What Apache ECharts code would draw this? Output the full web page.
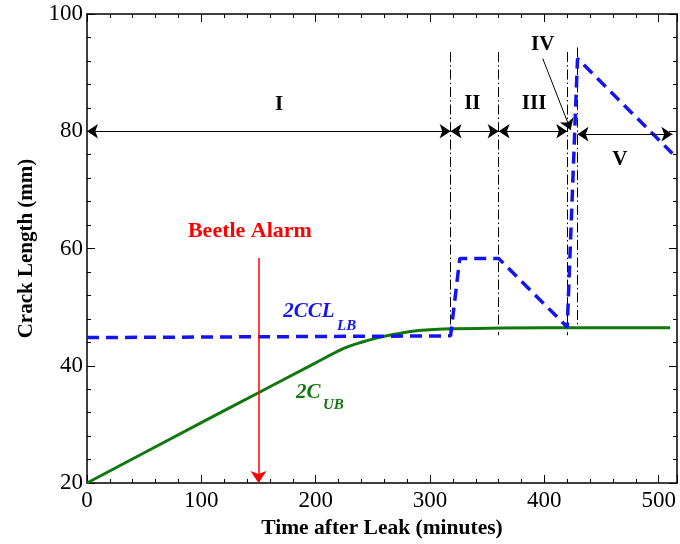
<!DOCTYPE html>
<html><head><meta charset="utf-8">
<script src="https://cdn.jsdelivr.net/npm/echarts@6/dist/echarts.min.js"></script>
<style>html,body{margin:0;padding:0;background:#fff}#c{width:680px;height:544px}</style>
</head><body><div id="c"></div>
<script>
// Data
const ubTime  = [0, 100, 150, 200, 225, 240, 255, 270, 290, 320, 400, 510];
const ubCrack = [20, 30.3, 35.4, 40.5, 43, 44, 44.8, 45.4, 46, 46.3, 46.5, 46.5];
const lbTime  = [0, 318, 326, 360, 420, 429, 512];
const lbCrack = [44.8, 45.1, 58.3, 58.3, 46.6, 92.4, 76.2];
const phaseBounds = [318, 360, 420, 429];
const phaseTop = [93.5, 93.5, 93.5, 94.3];
const phaseBottom = [46.3, 45.2, 45.2, 46.5];
const phaseNames = ['I', 'II', 'III', 'IV', 'V'];
const phaseNameX = [168, 337, 391, 398.6, 466];
const phaseNameY = [84.5, 84.7, 84.8, 94.7, 75.1];
const spanStart = [0, 318, 360, 429];
const spanEnd = [318, 360, 420, 512];
const spanY = [80, 80, 80, 79.5];
const ivPointer = [[398.6, 92.4], [423, 80.2]];
const alarmTime = 150;
const alarmFrom = 58.4, alarmTo = 20;
const alarmText = 'Beetle Alarm';
const alarmTextPos = [142.5, 63];
const lbName = ['2CCL', 'LB'];
const lbNamePos = [[194, 49.2], [227, 46.8]];
const ubName = ['2C', 'UB'];
const ubNamePos = [[193.6, 35.5], [215.5, 33.3]];
const xTicks = [0, 100, 200, 300, 400, 500];
const yTicks = [20, 40, 60, 80, 100];

const FONT = 'Liberation Serif';
const chart = echarts.init(document.getElementById('c'));
const pair = (xs, ys) => xs.map((x, i) => [x, ys[i]]);

const axisCommon = {
  axisLine: {show: true, onZero: false, lineStyle: {color: '#000', width: 1.5}},
  axisTick: {show: true, inside: true, length: 8, lineStyle: {color: '#000', width: 1}},
  minorTick: {show: true, splitNumber: 5, length: 4, lineStyle: {color: '#000', width: 1}},
  splitLine: {show: false}
};

function textPoint(text, pos, style) {
  return {
    type: 'scatter', symbolSize: 0, silent: true, z: 10,
    itemStyle: {opacity: 1},
    data: [{value: pos, label: Object.assign({show: true, position: 'inside', formatter: text,
      fontFamily: FONT, opacity: 1, textBorderWidth: 0}, style)}]
  };
}

const series = [
  {type: 'line', data: pair(ubTime, ubCrack), showSymbol: false, smooth: 0.3,
   lineStyle: {color: '#117711', width: 3}, z: 3},
  {type: 'line', data: pair(lbTime, lbCrack), showSymbol: false,
   lineStyle: {color: '#1414f0', width: 3.5, type: [12, 7]}, z: 4},
  {type: 'lines', coordinateSystem: 'cartesian2d', symbol: 'none', silent: true, z: 2,
   lineStyle: {color: '#000', width: 1, opacity: 1, type: [10, 3, 1.5, 3]},
   data: phaseBounds.map((x, i) => ({coords: [[x, phaseTop[i]], [x, phaseBottom[i]]]}))},
  {type: 'lines', coordinateSystem: 'cartesian2d', symbol: ['arrow', 'arrow'], symbolSize: 11, silent: true, z: 5,
   lineStyle: {color: '#000', width: 1, opacity: 1},
   data: spanStart.map((s, i) => ({coords: [[s, spanY[i]], [spanEnd[i], spanY[i]]]}))},
  {type: 'lines', coordinateSystem: 'cartesian2d', symbol: ['none', 'arrow'], symbolSize: 11, silent: true, z: 5,
   lineStyle: {color: '#000', width: 1, opacity: 1},
   data: [{coords: ivPointer}]},
  {type: 'lines', coordinateSystem: 'cartesian2d', symbol: ['none', 'arrow'], symbolSize: 12, silent: true, z: 5,
   lineStyle: {color: '#ff0000', width: 1.5, opacity: 1},
   data: [{coords: [[alarmTime, alarmFrom], [alarmTime, alarmTo]]}]},
  textPoint(alarmText, alarmTextPos, {color: '#ff0000', fontWeight: 'bold', fontSize: 22}),
  textPoint(lbName[0], lbNamePos[0], {color: '#1414f0', fontWeight: 'bold', fontStyle: 'italic', fontSize: 21}),
  textPoint(lbName[1], lbNamePos[1], {color: '#1414f0', fontWeight: 'bold', fontStyle: 'italic', fontSize: 15}),
  textPoint(ubName[0], ubNamePos[0], {color: '#117711', fontWeight: 'bold', fontStyle: 'italic', fontSize: 21}),
  textPoint(ubName[1], ubNamePos[1], {color: '#117711', fontWeight: 'bold', fontStyle: 'italic', fontSize: 15})
];
phaseNames.forEach((n, i) => series.push(textPoint(n, [phaseNameX[i], phaseNameY[i]], {color: '#000', fontWeight: 'bold', fontSize: 21})));

chart.setOption({
  animation: false,
  backgroundColor: '#fff',
  grid: {left: 87, right: 2, top: 14, bottom: 61, containLabel: false},
  xAxis: [
    Object.assign({type: 'value', min: 0, max: 516, interval: 100, position: 'bottom',
      name: 'Time after Leak (minutes)', nameLocation: 'middle', nameGap: 34,
      nameTextStyle: {fontFamily: FONT, fontWeight: 'bold', fontSize: 21.5, color: '#000'},
      axisLabel: {fontFamily: FONT, fontSize: 23, color: '#000', margin: 6,
        formatter: v => xTicks.includes(v) ? String(v) : ''}}, axisCommon),
    Object.assign({type: 'value', min: 0, max: 516, interval: 100, position: 'top',
      axisLabel: {show: false}}, axisCommon)
  ],
  yAxis: [
    Object.assign({type: 'value', min: 20, max: 100, interval: 20, position: 'left',
      name: 'Crack Length (mm)', nameLocation: 'middle', nameGap: 50, nameRotate: 90,
      nameTextStyle: {fontFamily: FONT, fontWeight: 'bold', fontSize: 21, color: '#000'},
      axisLabel: {fontFamily: FONT, fontSize: 23, color: '#000', margin: 4,
        formatter: v => yTicks.includes(v) ? String(v) : ''}}, axisCommon),
    Object.assign({type: 'value', min: 20, max: 100, interval: 20, position: 'right',
      axisLabel: {show: false}}, axisCommon)
  ],
  series: series
});
</script></body></html>
